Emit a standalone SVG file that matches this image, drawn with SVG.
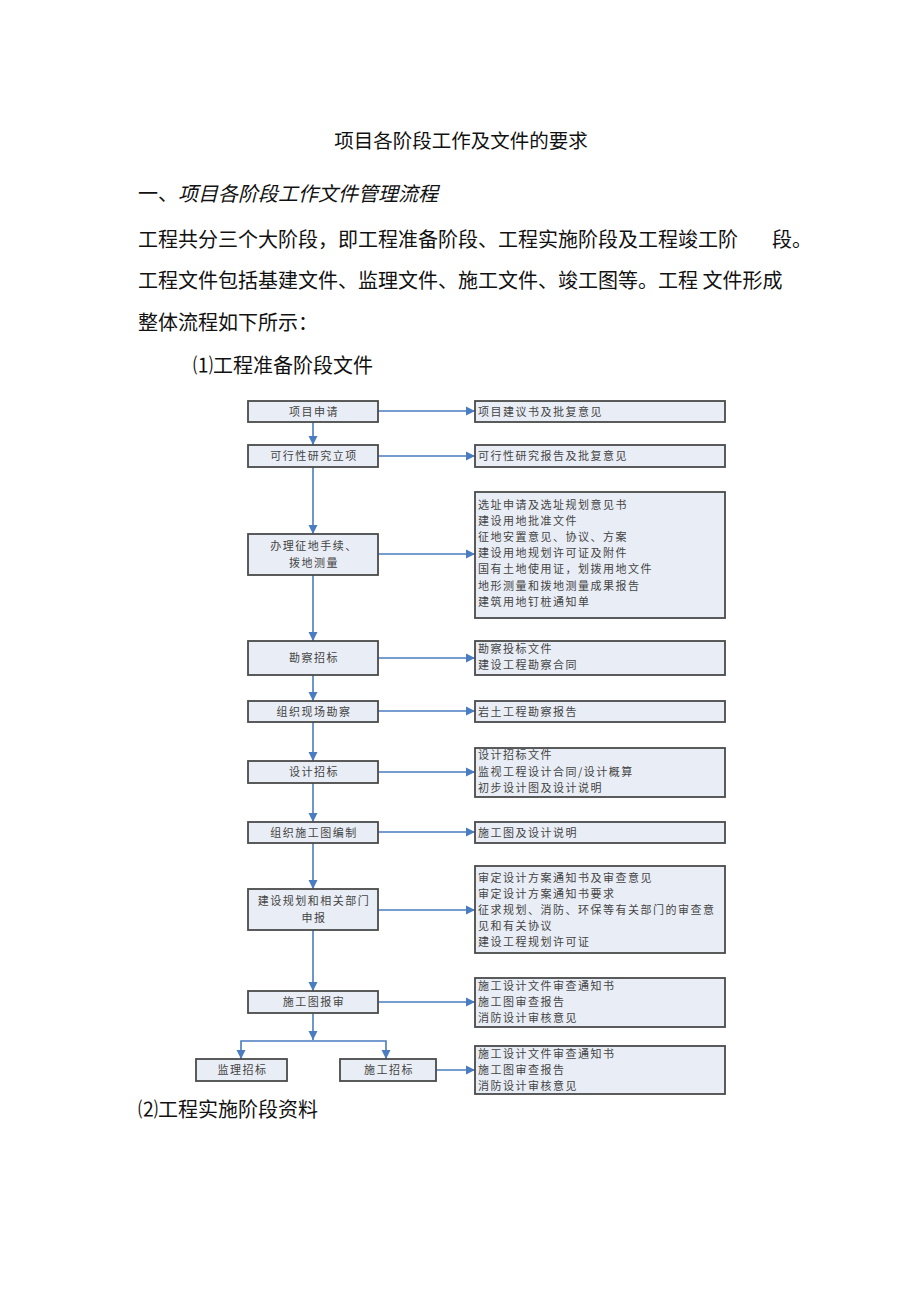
<svg xmlns="http://www.w3.org/2000/svg" width="920" height="1301" viewBox="0 0 920 1301">
<defs>
<marker id="ah" markerWidth="10" markerHeight="10" refX="9" refY="5" orient="auto" markerUnits="userSpaceOnUse">
<path d="M0,0.5 L9,5 L0,9.5 Z" fill="#4a7cc0"/>
</marker>
</defs>
<style>
.hd{font-family:"Noto Sans CJK SC","Noto Sans",sans-serif;fill:#111;font-size:20px}
.bx{fill:#e9edf5;stroke:#4a4a4a;stroke-width:1.8}
.bt{font-family:"Noto Sans CJK SC",sans-serif;fill:#444;font-size:11px;letter-spacing:1.5px}
.c{text-anchor:middle}
.ln{stroke:#4a7cc0;stroke-width:1.6;fill:none}
.ar{marker-end:url(#ah)}
</style>
<rect width="920" height="1301" fill="#fff"/>
<g id="header">
<text class="hd c" x="461" y="148" style="font-size:19.5px">项目各阶段工作及文件的要求</text>
<text class="hd" x="138" y="201">一、<tspan font-style="italic">项目各阶段工作文件管理流程</tspan></text>
<text class="hd" x="138" y="247">工程共分三个大阶段，即工程准备阶段、工程实施阶段及工程竣工阶<tspan x="772">段。</tspan></text>
<text class="hd" x="138" y="288">工程文件包括基建文件、监理文件、施工文件、竣工图等。工程 文件形成</text>
<text class="hd" x="138" y="330">整体流程如下所示：</text>
<text class="hd" x="193" y="373">⑴工程准备阶段文件</text>
<text class="hd" x="138" y="1117">⑵工程实施阶段资料</text>
</g>
<g id="connectors">
<line class="ln ar" x1="313" y1="422" x2="313" y2="445"/>
<line class="ln ar" x1="313" y1="467" x2="313" y2="534"/>
<line class="ln ar" x1="313" y1="575" x2="313" y2="641"/>
<line class="ln ar" x1="313" y1="675" x2="313" y2="701"/>
<line class="ln ar" x1="313" y1="722" x2="313" y2="761"/>
<line class="ln ar" x1="313" y1="783" x2="313" y2="822"/>
<line class="ln ar" x1="313" y1="843" x2="313" y2="889"/>
<line class="ln ar" x1="313" y1="930" x2="313" y2="991"/>
<line class="ln ar" x1="313" y1="1013" x2="313" y2="1040"/>
<polyline class="ln ar" points="313,1041 241,1041 241,1059"/>
<polyline class="ln ar" points="313,1041 386,1041 386,1059"/>
<line class="ln ar" x1="378" y1="411" x2="475" y2="411"/>
<line class="ln ar" x1="378" y1="456" x2="475" y2="456"/>
<line class="ln ar" x1="378" y1="554" x2="475" y2="554"/>
<line class="ln ar" x1="378" y1="658" x2="475" y2="658"/>
<line class="ln ar" x1="378" y1="711" x2="475" y2="711"/>
<line class="ln ar" x1="378" y1="772" x2="475" y2="772"/>
<line class="ln ar" x1="378" y1="832" x2="475" y2="832"/>
<line class="ln ar" x1="378" y1="910" x2="475" y2="910"/>
<line class="ln ar" x1="378" y1="1002" x2="475" y2="1002"/>
<line class="ln ar" x1="436" y1="1070" x2="475" y2="1070"/>
</g>
<g id="n1"><rect class="bx" x="248" y="401" width="130" height="21"/><text class="bt c" x="314" y="415.5">项目申请</text></g>
<g id="n2"><rect class="bx" x="248" y="445" width="130" height="22"/><text class="bt c" x="314" y="460">可行性研究立项</text></g>
<g id="n3"><rect class="bx" x="248" y="534" width="130" height="41"/><text class="bt c" x="314" y="550">办理征地手续、</text><text class="bt c" x="314" y="567">拨地测量</text></g>
<g id="n4"><rect class="bx" x="248" y="641" width="130" height="34"/><text class="bt c" x="314" y="662">勘察招标</text></g>
<g id="n5"><rect class="bx" x="248" y="701" width="130" height="21"/><text class="bt c" x="314" y="715.5">组织现场勘察</text></g>
<g id="n6"><rect class="bx" x="248" y="761" width="130" height="22"/><text class="bt c" x="314" y="776">设计招标</text></g>
<g id="n7"><rect class="bx" x="248" y="822" width="130" height="21"/><text class="bt c" x="314" y="836.5">组织施工图编制</text></g>
<g id="n8"><rect class="bx" x="248" y="889" width="130" height="41"/><text class="bt c" x="314" y="905">建设规划和相关部门</text><text class="bt c" x="314" y="922">申报</text></g>
<g id="n9"><rect class="bx" x="248" y="991" width="130" height="22"/><text class="bt c" x="314" y="1006">施工图报审</text></g>
<g id="n10"><rect class="bx" x="196" y="1059" width="91" height="22"/><text class="bt c" x="242.5" y="1074">监理招标</text></g>
<g id="n11"><rect class="bx" x="340" y="1059" width="96" height="22"/><text class="bt c" x="389" y="1074">施工招标</text></g>
<g id="d1"><rect class="bx" x="475" y="401" width="250" height="21"/><text class="bt" x="478" y="415.5">项目建议书及批复意见</text></g>
<g id="d2"><rect class="bx" x="475" y="445" width="250" height="22"/><text class="bt" x="478" y="460">可行性研究报告及批复意见</text></g>
<g id="d3"><rect class="bx" x="475" y="492" width="250" height="126"/>
<text class="bt" x="478" y="509">选址申请及选址规划意见书</text>
<text class="bt" x="478" y="525">建设用地批准文件</text>
<text class="bt" x="478" y="541">征地安置意见、协议、方案</text>
<text class="bt" x="478" y="557">建设用地规划许可证及附件</text>
<text class="bt" x="478" y="573">国有土地使用证，划拨用地文件</text>
<text class="bt" x="478" y="590">地形测量和拨地测量成果报告</text>
<text class="bt" x="478" y="606">建筑用地钉桩通知单</text></g>
<g id="d4"><rect class="bx" x="475" y="641" width="250" height="34"/>
<text class="bt" x="478" y="653">勘察投标文件</text>
<text class="bt" x="478" y="669">建设工程勘察合同</text></g>
<g id="d5"><rect class="bx" x="475" y="701" width="250" height="21"/><text class="bt" x="478" y="715.5">岩土工程勘察报告</text></g>
<g id="d6"><rect class="bx" x="475" y="748" width="250" height="49"/>
<text class="bt" x="478" y="759">设计招标文件</text>
<text class="bt" x="478" y="776">监视工程设计合同/设计概算</text>
<text class="bt" x="478" y="792">初步设计图及设计说明</text></g>
<g id="d7"><rect class="bx" x="475" y="822" width="250" height="21"/><text class="bt" x="478" y="836.5">施工图及设计说明</text></g>
<g id="d8"><rect class="bx" x="475" y="866" width="250" height="87"/>
<text class="bt" x="478" y="882">审定设计方案通知书及审查意见</text>
<text class="bt" x="478" y="898">审定设计方案通知书要求</text>
<text class="bt" x="478" y="914">征求规划、消防、环保等有关部门的审查意</text>
<text class="bt" x="478" y="930">见和有关协议</text>
<text class="bt" x="478" y="946">建设工程规划许可证</text></g>
<g id="d9"><rect class="bx" x="475" y="978" width="250" height="49"/>
<text class="bt" x="478" y="990">施工设计文件审查通知书</text>
<text class="bt" x="478" y="1006">施工图审查报告</text>
<text class="bt" x="478" y="1022">消防设计审核意见</text></g>
<g id="d10"><rect class="bx" x="475" y="1046" width="250" height="48"/>
<text class="bt" x="478" y="1058">施工设计文件审查通知书</text>
<text class="bt" x="478" y="1074">施工图审查报告</text>
<text class="bt" x="478" y="1090">消防设计审核意见</text></g>
</svg>
